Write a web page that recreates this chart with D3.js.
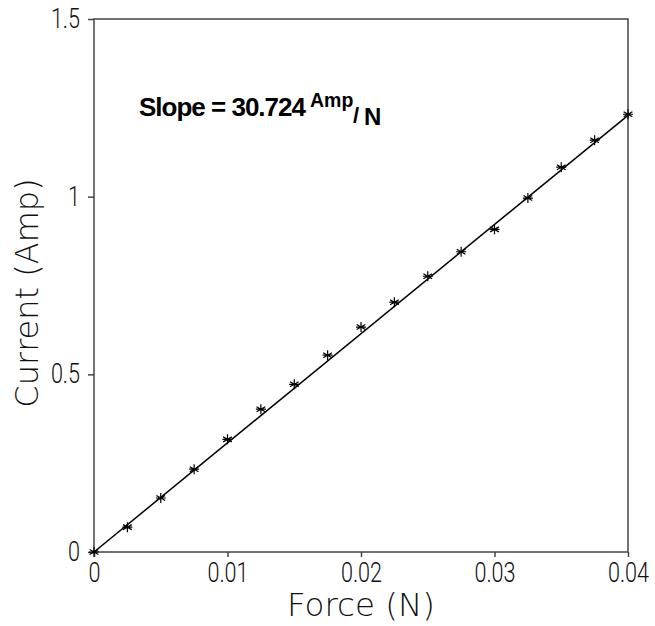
<!DOCTYPE html>
<html>
<head>
<meta charset="utf-8">
<script src="https://cdn.jsdelivr.net/npm/d3@7"></script>
<style>
  html, body { margin: 0; padding: 0; background: #fff; }
  svg { display: block; }
</style>
</head>
<body>
<svg id="chart" width="655" height="626"></svg>
<script>
// ---- data ----
const force = [0, 0.0025, 0.005, 0.0075, 0.01, 0.0125, 0.015, 0.0175, 0.02, 0.0225, 0.025, 0.0275, 0.03, 0.0325, 0.035, 0.0375, 0.04];
const current = [0, 0.070, 0.152, 0.233, 0.317, 0.402, 0.472, 0.554, 0.633, 0.703, 0.776, 0.845, 0.908, 0.996, 1.083, 1.159, 1.232];
const fitSlope = [30.724];
const fitIntercept = [0];
const xTicks = [0, 0.01, 0.02, 0.03, 0.04];
const xTickLabels = ["0", "0.01", "0.02", "0.03", "0.04"];
const yTicks = [0, 0.5, 1, 1.5];
const yTickLabels = ["0", "0.5", "1", "1.5"];
const xTitle = ["Force (N)"];
const yTitle = ["Current (Amp)"];

// ---- layout ----
const svg = d3.select("#chart");
const mLeft = 94, mRight = 628, mTop = 19, mBottom = 552;
const x = d3.scaleLinear().domain([0, 0.04]).range([mLeft, mRight]);
const y = d3.scaleLinear().domain([0, 1.5]).range([mBottom, mTop]);
const axisColor = "#444";
const textColor = "#111";
const tickFont = "Roboto, 'DejaVu Sans', sans-serif";
const titleFont = "'DejaVu Sans', sans-serif";
const sx = 0.8; // horizontal squeeze of tick labels

// frame
svg.append("rect")
  .attr("x", mLeft).attr("y", mTop)
  .attr("width", mRight - mLeft).attr("height", mBottom - mTop)
  .attr("fill", "none").attr("stroke", axisColor).attr("stroke-width", 1.5);

// x axis
const xAxis = d3.axisBottom(x).tickValues(xTicks)
  .tickFormat((d, i) => xTickLabels[i]).tickSize(5).tickPadding(6);
const gx = svg.append("g").attr("transform", `translate(0,${mBottom})`).call(xAxis);
gx.select(".domain").remove();
gx.selectAll(".tick line").attr("stroke", axisColor).attr("stroke-width", 1.5);
gx.selectAll(".tick text")
  .attr("font-family", tickFont).attr("font-weight", 300)
  .attr("font-size", 27).attr("fill", textColor)
  .attr("transform", `scale(${sx},1)`);

// y axis
const yAxis = d3.axisLeft(y).tickValues(yTicks)
  .tickFormat((d, i) => yTickLabels[i]).tickSize(6).tickPadding(8);
const gy = svg.append("g").attr("transform", `translate(${mLeft},0)`).call(yAxis);
gy.select(".domain").remove();
gy.selectAll(".tick line").attr("stroke", axisColor).attr("stroke-width", 1.5);
gy.selectAll(".tick text")
  .attr("font-family", tickFont).attr("font-weight", 300)
  .attr("font-size", 27).attr("fill", textColor)
  .attr("x", -14 / sx)
  .attr("transform", `scale(${sx},1)`);

// axis titles
svg.append("text")
  .attr("x", (mLeft + mRight) / 2).attr("y", 616)
  .attr("text-anchor", "middle")
  .attr("font-family", titleFont).attr("font-weight", 200)
  .attr("font-size", 32.5).attr("fill", textColor)
  .text(xTitle[0]);

svg.append("text")
  .attr("transform", `translate(38,293) rotate(-90)`)
  .attr("text-anchor", "middle")
  .attr("font-family", titleFont).attr("font-weight", 200)
  .attr("font-size", 32).attr("fill", textColor)
  .text(yTitle[0]);

// fit line
const x0 = x.domain()[0], x1 = x.domain()[1];
svg.append("line")
  .attr("x1", x(x0)).attr("y1", y(fitIntercept[0] + fitSlope[0] * x0))
  .attr("x2", x(x1)).attr("y2", y(fitIntercept[0] + fitSlope[0] * x1))
  .attr("stroke", "#000").attr("stroke-width", 1.5);

// asterisk markers
const r = 5;
const star = `M0,${-r}L0,${r}M${-r*0.87},${-r*0.5}L${r*0.87},${r*0.5}M${-r*0.87},${r*0.5}L${r*0.87},${-r*0.5}M${-r},0L${r},0`;
svg.append("g").selectAll("path")
  .data(force.map((f, i) => ({ f, c: current[i] })))
  .join("path")
  .attr("transform", d => `translate(${x(d.f)},${y(d.c)})`)
  .attr("d", star)
  .attr("stroke", "#000").attr("stroke-width", 1.2).attr("fill", "none");

// annotation
const ann = svg.append("text")
  .attr("font-family", "'Liberation Sans', Arial, sans-serif")
  .attr("font-weight", "bold").attr("fill", "#000");
ann.append("tspan").attr("x", 139).attr("y", 116)
  .attr("font-size", 26).attr("letter-spacing", -1)
  .text("Slope = " + fitSlope[0].toFixed(3));
ann.append("tspan").attr("x", 310).attr("y", 107)
  .attr("font-size", 19.5).text("Amp");
ann.append("tspan").attr("x", 353).attr("y", 123)
  .attr("font-size", 22).text("/");
ann.append("tspan").attr("x", 364).attr("y", 125)
  .attr("font-size", 24).text("N");
</script>
</body>
</html>
